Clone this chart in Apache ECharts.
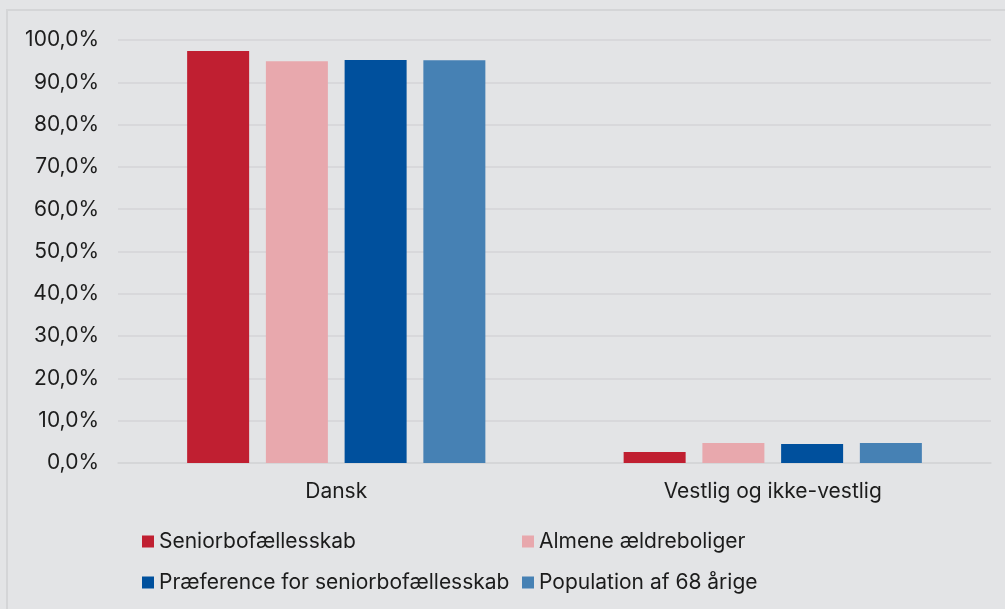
<!DOCTYPE html>
<html>
<head>
<meta charset="utf-8">
<script src="https://cdn.jsdelivr.net/npm/echarts@6/dist/echarts.min.js"></script>
<style>
  html, body { margin: 0; padding: 0; background: #e3e4e6; }
  #chart { width: 1005px; height: 609px; }
</style>
</head>
<body>
<div id="chart"></div>
<script>
// Data
const categories = ['Dansk', 'Vestlig og ikke-vestlig'];
const seriesNames = ['Seniorbofællesskab', 'Almene ældreboliger', 'Præference for seniorbofællesskab', 'Population af 68 årige'];
const seniorbo = [97.4, 2.6];
const almene = [95.0, 4.7];
const praeference = [95.3, 4.5];
const population = [95.2, 4.7];
const colors = ['#C01F31', '#E8A8AD', '#00509D', '#4681B4'];

const chartDom = document.getElementById('chart');
const myChart = echarts.init(chartDom);

const font = 'Inter, "Noto Sans", sans-serif';
const textColor = '#1c1c1c';

function bar(name, data, color) {
    return {
        name: name,
        type: 'bar',
        data: data,
        barWidth: 62,
        barGap: '27%',
        itemStyle: {color: color}
    };
}

// one legend per column so the two columns line up
function legendCol(names, left) {
    return {
        data: names,
        orient: 'vertical',
        left: left,
        top: 526,
        itemWidth: 12,
        itemHeight: 12,
        itemGap: 20,
        icon: 'rect',
        textStyle: {fontFamily: font, fontSize: 21, color: textColor}
    };
}

const option = {
    backgroundColor: '#e3e4e6',
    textStyle: {fontFamily: font},
    graphic: [
        {
            type: 'rect',
            shape: {x: 7, y: 10, width: 1010, height: 610},
            style: {fill: 'none', stroke: '#d4d5d7', lineWidth: 2},
            silent: true
        }
    ],
    grid: {
        left: 118,
        right: 14,
        top: 40,
        bottom: 146
    },
    legend: [
        legendCol([seriesNames[0], seriesNames[2]], 137),
        legendCol([seriesNames[1], seriesNames[3]], 517)
    ],
    xAxis: {
        type: 'category',
        data: categories,
        axisLine: {lineStyle: {color: '#d4d5d7', width: 1.5}},
        axisTick: {show: false},
        axisLabel: {fontFamily: font, fontSize: 21, color: textColor, margin: 18}
    },
    yAxis: {
        type: 'value',
        min: 0,
        max: 100,
        interval: 10,
        axisLine: {show: false},
        axisTick: {show: false},
        splitLine: {lineStyle: {color: '#d4d5d7', width: 1.5}},
        axisLabel: {
            fontFamily: font,
            fontSize: 21,
            color: textColor,
            margin: 19,
            formatter: function (v) {
                return v.toFixed(1).replace('.', ',') + '%';
            }
        }
    },
    series: [
        bar(seriesNames[0], seniorbo, colors[0]),
        bar(seriesNames[1], almene, colors[1]),
        bar(seriesNames[2], praeference, colors[2]),
        bar(seriesNames[3], population, colors[3])
    ]
};

myChart.setOption(option);
</script>
</body>
</html>
